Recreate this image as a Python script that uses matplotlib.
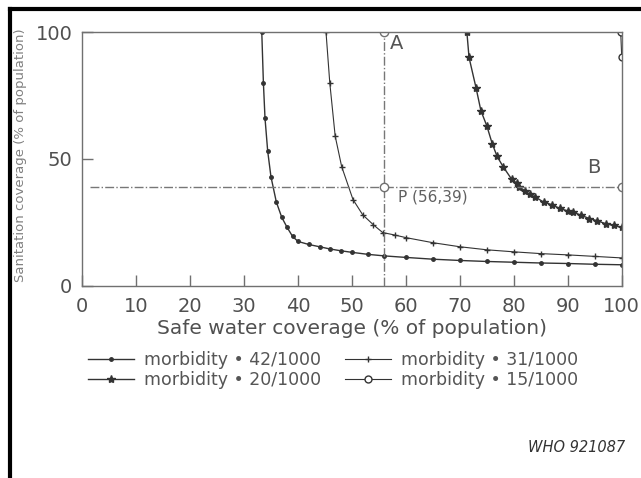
import matplotlib
matplotlib.use("Agg")
from matplotlib import pyplot as plt
from matplotlib.lines import Line2D

plt.rcParams['font.family'] = ['DejaVu Sans']

# curves: safe water coverage (x) vs sanitation coverage (y)
m42_x = [33.3, 33.6, 33.9, 34.4, 35, 36, 37, 38, 39, 40, 42, 44, 46, 48, 50, 53, 56, 60, 65, 70, 75, 80, 85, 90, 95, 100]
m42_y = [100, 80, 66, 53, 43, 33, 27, 23, 19.5, 17.5, 16.3, 15.4, 14.5, 13.8, 13.2, 12.4, 11.8, 11.2, 10.5, 10, 9.6, 9.3, 9, 8.8, 8.5, 8.3]

m31_x = [45.2, 45.9, 46.9, 48.1, 50.2, 52, 54, 55.7, 58, 60, 65, 70, 75, 80, 85, 90, 95, 100]
m31_y = [100, 80, 59, 47, 34, 28, 24, 21, 20, 19, 17, 15.4, 14.2, 13.4, 12.7, 12.2, 11.6, 11]

m20_x = [71.3, 71.7, 73, 73.9, 75, 76, 76.9, 78, 79.6, 80.5, 81, 82, 83, 84, 85.5, 87, 88.5, 90, 91, 92.5, 94, 95.5, 97, 98.5, 100]
m20_y = [100, 90, 78, 69, 63, 56, 51, 47, 42, 40.5, 39, 37.5, 36, 35, 33, 32, 30.5, 29.5, 29, 27.8, 26.5, 25.6, 24.5, 23.8, 23]

m15_x = [99.8, 100]
m15_y = [100, 90]

p_x, p_y = 56, 39
x_ticks = [0, 10, 20, 30, 40, 50, 60, 70, 80, 90, 100]
y_ticks = [0, 50, 100]

dark = '#333333'
grey = '#707070'

fig = plt.figure(figsize=(6.41, 4.78), dpi=100)
ax = fig.add_axes([0.128, 0.402, 0.842, 0.531])

ax.plot(m42_x, m42_y, color=dark, lw=1, marker='o', ms=2.5, label='morbidity \u2022 42/1000')
ax.plot(m20_x, m20_y, color=dark, lw=1, marker='*', ms=6, label='morbidity \u2022 20/1000')
ax.plot(m31_x, m31_y, color=dark, lw=0.8, marker='+', ms=4, label='morbidity \u2022 31/1000')
ax.plot(m15_x, m15_y, color=dark, lw=0.8, marker='o', ms=5, mfc='white', label='morbidity \u2022 15/1000')

# reference lines through P
ax.plot([1.5, 100], [p_y, p_y], color='#777777', lw=1, ls='-.')
ax.plot([p_x, p_x], [0, 100], color='#777777', lw=1, ls='-.')
ax.plot([p_x, p_x, 100], [100, p_y, p_y], ls='none', marker='o', ms=6, mfc='white', mec=grey)
ax.text(p_x + 1.1, 95.5, 'A', fontsize=14, color='#555555', va='center')
ax.text(93.5, 46.5, 'B', fontsize=14, color='#555555', va='center')
ax.text(p_x + 2.6, 35, 'P (56,39)', fontsize=11, color='#606060', va='center')

ax.set_xlim(0, 100)
ax.set_ylim(0, 100)
ax.set_xticks(x_ticks)
ax.set_yticks(y_ticks)
ax.tick_params(direction='in', length=8, width=1, colors=grey, labelsize=14, labelcolor='#505050')
ax.tick_params(axis='x', pad=8)
ax.tick_params(axis='y', pad=7)
for s in ax.spines.values():
    s.set_color(grey)
    s.set_linewidth(1.0)

ax.set_xlabel('Safe water coverage (% of population)', fontsize=14.5, color='#505050', labelpad=2)
fig.text(0.032, 1 - 155 / 478, 'Sanitation coverage (% of population)', rotation=90,
         fontsize=9.5, color='#808080', ha='center', va='center')

fig.legend(loc='center', bbox_to_anchor=(0.52, 1 - 370 / 478), ncol=2, frameon=False,
           fontsize=12.5, handlelength=2.6, columnspacing=1.4, labelspacing=0.1,
           handletextpad=0.6, labelcolor='#555555')

fig.text(625 / 641, 1 - 448 / 478, 'WHO 921087', fontsize=10.5, style='italic',
         color='#333333', ha='right', va='center')

# scan border on top and left
fig.add_artist(Line2D([10 / 641, 1], [1 - 9 / 478, 1 - 9 / 478], color='black', lw=3))
fig.add_artist(Line2D([10 / 641, 10 / 641], [0, 1 - 9 / 478], color='black', lw=3))

fig.savefig('out.png', dpi=100)
